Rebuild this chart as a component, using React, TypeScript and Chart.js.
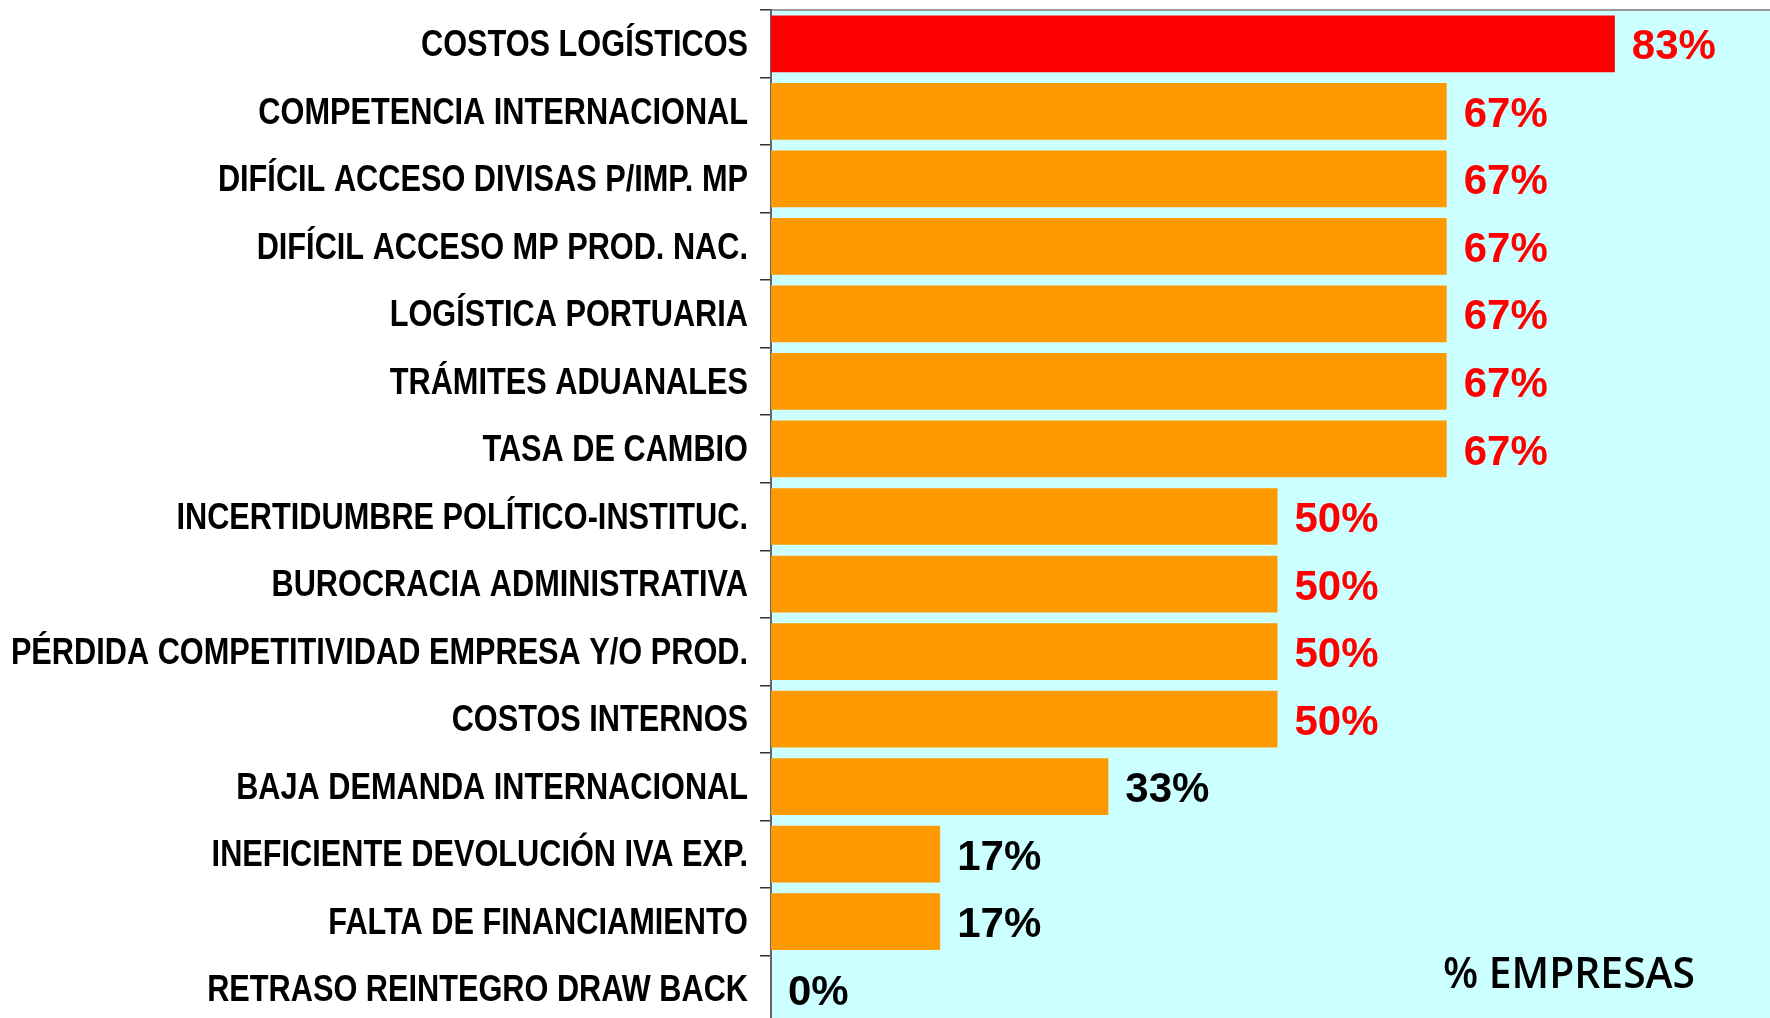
import React, { useEffect, useRef } from "react";
import { Chart, registerables } from "chart.js";

Chart.register(...registerables);

const categories: string[] = [
  "COSTOS LOGÍSTICOS",
  "COMPETENCIA INTERNACIONAL",
  "DIFÍCIL ACCESO DIVISAS P/IMP. MP",
  "DIFÍCIL ACCESO MP PROD. NAC.",
  "LOGÍSTICA PORTUARIA",
  "TRÁMITES ADUANALES",
  "TASA DE CAMBIO",
  "INCERTIDUMBRE POLÍTICO-INSTITUC.",
  "BUROCRACIA ADMINISTRATIVA",
  "PÉRDIDA COMPETITIVIDAD EMPRESA Y/O PROD.",
  "COSTOS INTERNOS",
  "BAJA DEMANDA INTERNACIONAL",
  "INEFICIENTE DEVOLUCIÓN IVA EXP.",
  "FALTA DE FINANCIAMIENTO",
  "RETRASO REINTEGRO DRAW BACK",
];

const percentages: number[] = [83.3, 66.7, 66.7, 66.7, 66.7, 66.7, 66.7, 50, 50, 50, 50, 33.3, 16.7, 16.7, 0];

const barColors: string[] = [
  "#FF0000", "#FF9900", "#FF9900", "#FF9900", "#FF9900", "#FF9900", "#FF9900", "#FF9900",
  "#FF9900", "#FF9900", "#FF9900", "#FF9900", "#FF9900", "#FF9900", "#FF9900",
];

const axisTitle = "% EMPRESAS";

const plotBgPlugin = {
  id: "plotBg",
  beforeDraw(chart: any) {
    const { ctx, chartArea } = chart;
    ctx.save();
    ctx.fillStyle = "#CCFFFF";
    ctx.fillRect(chartArea.left, chartArea.top, chartArea.right - chartArea.left, chartArea.bottom - chartArea.top);
    ctx.strokeStyle = "#999999";
    ctx.lineWidth = 2;
    ctx.beginPath();
    ctx.moveTo(chartArea.left, chartArea.top);
    ctx.lineTo(chartArea.right, chartArea.top);
    ctx.stroke();
    ctx.restore();
  },
};

const labelPlugin = {
  id: "valueLabels",
  afterDatasetsDraw(chart: any) {
    const { ctx } = chart;
    const meta = chart.getDatasetMeta(0);
    const yScale = chart.scales.y;
    ctx.save();
    // category labels (narrow bold, like Arial Narrow)
    ctx.font = 'bold 37px "Liberation Sans", Arial, sans-serif';
    ctx.fillStyle = "#000000";
    ctx.textAlign = "right";
    ctx.textBaseline = "middle";
    const labelRight = yScale.right - 11 - 12;
    categories.forEach((c: string, i: number) => {
      const y = yScale.getPixelForValue(i);
      const w = ctx.measureText(c).width;
      ctx.fillText(c, labelRight, y + 2, w * 0.83);
    });
    // value labels
    ctx.font = 'bold 42px "Liberation Sans", Arial, sans-serif';
    ctx.textAlign = "left";
    meta.data.forEach((bar: any, i: number) => {
      const v = percentages[i];
      ctx.fillStyle = v >= 50 ? "#FF0000" : "#000000";
      ctx.fillText(Math.round(v) + "%", bar.x + 17, bar.y + 4);
    });
    ctx.font = '600 43px "Open Sans", sans-serif';
    ctx.fillStyle = "#000000";
    ctx.textBaseline = "alphabetic";
    ctx.fillText(axisTitle, 1443, 988, 252);
    ctx.restore();
  },
};

export default function App() {
  const canvasRef = useRef<HTMLCanvasElement | null>(null);

  useEffect(() => {
    const canvas = canvasRef.current;
    if (!canvas) return;
    const chart = new Chart(canvas, {
      type: "bar",
      data: {
        labels: categories,
        datasets: [
          {
            data: percentages,
            backgroundColor: barColors,
            borderWidth: 0,
            barPercentage: 0.84,
            categoryPercentage: 1,
          },
        ],
      },
      options: {
        indexAxis: "y",
        animation: false,
        responsive: true,
        maintainAspectRatio: false,
        layout: { padding: { top: 10, right: 0, bottom: 0, left: 0 } },
        plugins: {
          legend: { display: false },
          tooltip: { enabled: false },
        },
        scales: {
          x: {
            display: false,
            min: 0,
            max: 100,
          },
          y: {
            afterFit: (scale: any) => {
              scale.width = 771;
              scale.paddingTop = 0;
              scale.paddingBottom = 0;
            },
            grid: {
              display: true,
              drawOnChartArea: false,
              drawTicks: true,
              tickLength: 11,
              tickColor: "#333333",
              lineWidth: 1.5,
            },
            border: { display: true, color: "#666666", width: 2 },
            ticks: {
              display: false,
              autoSkip: false,
            },
          },
        },
      },
      plugins: [plotBgPlugin, labelPlugin],
    });
    return () => chart.destroy();
  }, []);

  return (
    <div style={{ position: "fixed", left: 0, top: 0, width: "100vw", height: "100vh", overflow: "hidden", background: "#FFFFFF" }}>
      <div style={{ position: "absolute", left: 0, top: 0, width: 1784, height: 1023 }}>
        <canvas ref={canvasRef} />
      </div>
    </div>
  );
}
